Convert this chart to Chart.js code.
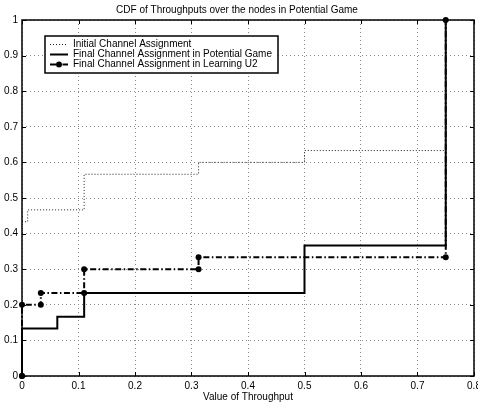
<!DOCTYPE html>
<html>
<head>
<meta charset="utf-8">
<script src="https://cdn.jsdelivr.net/npm/chart.js@4.4.1/dist/chart.umd.min.js"></script>
<style>
html, body { margin: 0; padding: 0; background: #fff; }
#wrap { width: 478px; height: 409px; }
</style>
</head>
<body>
<div id="wrap"><canvas id="cdfChart"></canvas></div>
<script>
const chartTitle = 'CDF of Throughputs over the nodes in Potential Game';
const xAxisTitle = 'Value of Throughput';
const seriesNames = [
    'Initial Channel Assignment',
    'Final Channel Assignment in Potential Game',
    'Final Channel Assignment in Learning U2'
];

// CDF steps: x where the step happens, and the level reached there
const initX = [0, 0.01, 0.11, 0.3125, 0.5, 0.75];
const initY = [0.4333, 0.4667, 0.5667, 0.6, 0.6333, 1];
const gameX = [0, 0, 0.0625, 0.11, 0.5, 0.75];
const gameY = [0, 0.1333, 0.1667, 0.2333, 0.3667, 1];
const u2X = [0, 0, 0.0333, 0.11, 0.3125, 0.75];
const u2Y = [0, 0.2, 0.2333, 0.3, 0.3333, 1];

const xTicks = [0, 0.1, 0.2, 0.3, 0.4, 0.5, 0.6, 0.7, 0.8];
const yTicks = [0, 0.1, 0.2, 0.3, 0.4, 0.5, 0.6, 0.7, 0.8, 0.9, 1];

// turn step lists into the corner points of a staircase
function stairs(xs, ys) {
    const pts = [{x: xs[0], y: ys[0]}];
    for (let i = 1; i < xs.length; i++) {
        pts.push({x: xs[i], y: ys[i - 1]});
        pts.push({x: xs[i], y: ys[i]});
    }
    return pts;
}

const FONT = "'Liberation Sans', Arial, Helvetica, sans-serif";

// box round the plot + little inward ticks, like matlab axes
const boxPlugin = {
    id: 'box',
    afterDatasetsDraw(chart) {
        const {ctx, chartArea: a, scales} = chart;
        ctx.save();
        ctx.strokeStyle = '#000';
        ctx.lineWidth = 1;
        ctx.beginPath();
        xTicks.forEach(v => {
            const px = Math.round(scales.x.getPixelForValue(v)) + 0.5;
            ctx.moveTo(px, a.bottom); ctx.lineTo(px, a.bottom - 4);
            ctx.moveTo(px, a.top); ctx.lineTo(px, a.top + 4);
        });
        yTicks.forEach(v => {
            const py = Math.round(scales.y.getPixelForValue(v)) + 0.5;
            ctx.moveTo(a.left, py); ctx.lineTo(a.left + 4, py);
            ctx.moveTo(a.right, py); ctx.lineTo(a.right - 4, py);
        });
        ctx.stroke();
        ctx.lineWidth = 1.5;
        ctx.strokeRect(a.left, a.top, a.right - a.left, a.bottom - a.top);
        ctx.restore();
    }
};

// boxed legend in the top left corner
const legendPlugin = {
    id: 'boxLegend',
    afterDraw(chart) {
        const ctx = chart.ctx;
        const bx = 45, by = 36, bw = 233, bh = 37;
        ctx.save();
        ctx.fillStyle = '#fff';
        ctx.fillRect(bx, by, bw, bh);
        ctx.strokeStyle = '#000';
        ctx.lineWidth = 1.5;
        ctx.strokeRect(bx, by, bw, bh);
        ctx.font = '10px ' + FONT;
        ctx.textBaseline = 'middle';
        chart.data.datasets.forEach((ds, i) => {
            const y = by + 8.5 + i * 10;
            ctx.strokeStyle = ds.borderColor;
            ctx.lineWidth = ds.borderWidth;
            ctx.setLineDash(ds.borderDash || []);
            ctx.beginPath();
            ctx.moveTo(50, y);
            ctx.lineTo(68, y);
            ctx.stroke();
            ctx.setLineDash([]);
            if (ds.pointRadius > 0) {
                ctx.fillStyle = '#000';
                ctx.beginPath();
                ctx.arc(59, y, ds.pointRadius, 0, Math.PI * 2);
                ctx.fill();
            }
            ctx.fillStyle = '#000';
            ctx.fillText(ds.label, 73, y);
        });
        ctx.restore();
    }
};

const ctx = document.getElementById('cdfChart').getContext('2d');
const cdfChart = new Chart(ctx, {
    type: 'scatter',
    data: {
        datasets: [
            {
                label: seriesNames[0],
                data: stairs(initX, initY),
                showLine: true,
                borderColor: '#222',
                borderWidth: 1,
                borderDash: [1, 2],
                pointRadius: 0,
                clip: false
            },
            {
                label: seriesNames[1],
                data: stairs(gameX, gameY),
                showLine: true,
                borderColor: '#000',
                borderWidth: 2,
                pointRadius: 0,
                clip: false
            },
            {
                label: seriesNames[2],
                data: stairs(u2X, u2Y),
                showLine: true,
                borderColor: '#000',
                borderWidth: 2,
                borderDash: [6, 2.5, 1.5, 2.5],
                pointRadius: 3,
                pointBackgroundColor: '#000',
                pointBorderColor: '#000',
                pointBorderWidth: 0,
                clip: false
            }
        ]
    },
    options: {
        responsive: true,
        maintainAspectRatio: false,
        animation: false,
        layout: { padding: { left: 0, right: 4, top: 0, bottom: 0 } },
        plugins: {
            legend: { display: false },
            tooltip: { enabled: false },
            title: {
                display: true,
                text: chartTitle,
                color: '#000',
                font: { family: FONT, size: 10, weight: 'normal' },
                padding: { top: 4, bottom: 4 }
            }
        },
        scales: {
            x: {
                type: 'linear',
                min: 0,
                max: 0.8,
                afterBuildTicks: s => { s.ticks = xTicks.map(v => ({value: v})); },
                afterFit: s => { s.height = 33; s.paddingLeft = 0; s.paddingRight = 0; },
                grid: { color: '#888', lineWidth: 1, drawTicks: false },
                border: { display: false, dash: [1, 3] },
                ticks: {
                    color: '#000',
                    padding: 4,
                    maxRotation: 0,
                    autoSkip: false,
                    font: { family: FONT, size: 10 },
                    callback: v => String(+v.toFixed(1))
                },
                title: {
                    display: true,
                    text: xAxisTitle,
                    color: '#000',
                    font: { family: FONT, size: 10 },
                    padding: { top: 6, bottom: 6 }
                }
            },
            y: {
                type: 'linear',
                min: 0,
                max: 1,
                afterBuildTicks: s => { s.ticks = yTicks.map(v => ({value: v})); },
                afterFit: s => { s.width = 22; s.paddingTop = 0; s.paddingBottom = 0; },
                grid: { color: '#888', lineWidth: 1, drawTicks: false },
                border: { display: false, dash: [1, 3] },
                ticks: {
                    color: '#000',
                    padding: 4,
                    autoSkip: false,
                    font: { family: FONT, size: 10 },
                    callback: v => String(+v.toFixed(1))
                }
            }
        }
    },
    plugins: [boxPlugin, legendPlugin]
});
</script>
</body>
</html>
